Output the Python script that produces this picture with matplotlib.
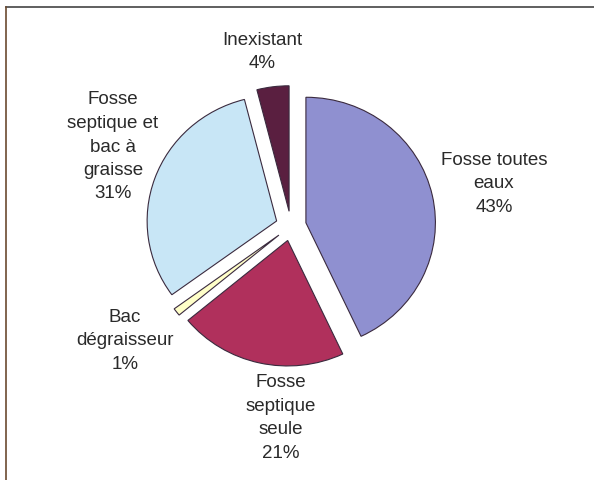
import matplotlib
matplotlib.use("Agg")
import matplotlib.pyplot as plt
from matplotlib.lines import Line2D

labels = ["Fosse toutes\neaux", "Fosse\nseptique\nseule", "Bac\ndégraisseur",
          "Fosse\nseptique et\nbac à\ngraisse", "Inexistant"]
values = [43, 21, 1, 31, 4]
colors = ["#8f90d0", "#b0305c", "#ffffc8", "#c8e6f6", "#5a1f40"]
label_pos_px = [(494, 184), (281, 418), (125, 341), (113, 147), (262, 52)]

W, H = 594, 481
fig = plt.figure(figsize=(W / 100, H / 100), dpi=100)
ax = fig.add_axes([0, 0, 1, 1])

cx, cy = 291, 254  # center in pixels from bottom-left
Rx, Ry = 129.5, 125.5
ax.axis("off")

ax.pie(values, colors=colors, startangle=90, counterclock=False,
       radius=1, center=(0, 0), explode=[0.118] * len(values),
       wedgeprops=dict(edgecolor="#3a2a3e", linewidth=0.8), frame=False)
ax.set_aspect("auto")
ax.set_xlim(-cx / Rx, (W - cx) / Rx)
ax.set_ylim(-cy / Ry, (H - cy) / Ry)

for lab, v, (px, py) in zip(labels, values, label_pos_px):
    fig.text(px / W, 1 - py / H, f"{lab}\n{v}%", ha="center", va="center",
             fontsize=13.5, family="Liberation Sans", color="#2a2a2a",
             linespacing=1.5)

# frame lines (top and left)
fig.add_artist(Line2D([6 / W, 1], [1 - 8 / H, 1 - 8 / H], transform=fig.transFigure,
                      color="#444444", linewidth=1.2))
fig.add_artist(Line2D([6 / W, 6 / W], [0, 1 - 8 / H], transform=fig.transFigure,
                      color="#6b4a30", linewidth=1.2))

fig.savefig("out.png", dpi=100)
